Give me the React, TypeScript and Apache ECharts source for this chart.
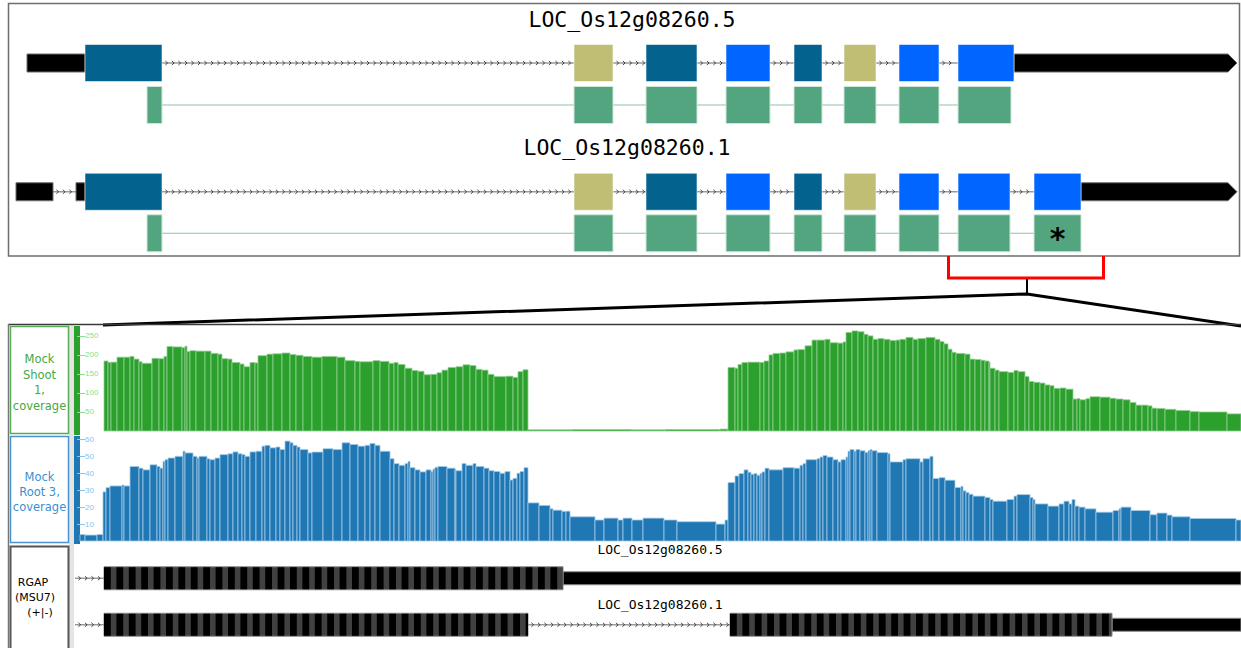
import React, { useEffect, useRef } from 'react';
import * as echarts from 'echarts';

// ---------- Top overview: gene models (positions along the locus, overview units) ----------
const titleT5 = 'LOC_Os12g08260.5';
const titleT1 = 'LOC_Os12g08260.1';

const t5Utr5 = [[27, 85]];
const t5Exons = [[85, 162], [574, 613], [646, 697], [726, 770], [794, 822], [844, 876], [899, 939], [958, 1014]];
const t5Phases = [0, 1, 0, 2, 0, 1, 2, 2];
const t5Utr3 = [[1014, 1237]];
const t5Cds = [[147, 162], [574, 613], [646, 697], [726, 770], [794, 822], [844, 876], [899, 939], [958, 1011]];

const t1Utr5 = [[16, 53], [76, 85]];
const t1Exons = [[85, 162], [574, 613], [646, 697], [726, 770], [794, 822], [844, 876], [899, 939], [958, 1010], [1034, 1081]];
const t1Phases = [0, 1, 0, 2, 0, 1, 2, 2, 2];
const t1Utr3 = [[1081, 1237]];
const t1Cds = [[147, 162], [574, 613], [646, 697], [726, 770], [794, 822], [844, 876], [899, 939], [958, 1010], [1034, 1081]];
const t1NoteIndex = 8;
const cdsNote = '*';

// ---------- Zoomed region: coverage tracks [start, end, coverage] ----------
const shootLabel = 'Mock\nShoot\n1,\ncoverage';
const rootLabel = 'Mock\nRoot 3,\ncoverage';
const rgapLabel = ['RGAP', '(MSU7)', '(+|-)'];
const shootTicks = [50, 100, 150, 200, 250];
const rootTicks = [10, 20, 30, 40, 50, 60];

const shootCoverage = [
  [104,108,184],[108,111,180],[111,117,181],[117,124,194],[124,130,194],[130,134,196],[134,139,189],[139,142,182],
  [142,152,178],[152,159,191],[159,164,190],[164,167,196],[167,173,222],[173,182,221],[182,185,219],[185,187,223],
  [187,190,209],[190,196,211],[196,205,210],[205,211,210],[211,218,204],[218,222,202],[222,228,190],[228,232,189],
  [232,240,180],[240,244,176],[244,250,169],[250,255,180],[255,258,179],[258,267,198],[267,273,202],[273,282,203],
  [282,290,205],[290,296,201],[296,303,199],[303,312,196],[312,322,194],[322,337,196],[337,345,194],[345,355,185],
  [355,360,183],[360,373,182],[373,380,185],[380,389,183],[389,394,178],[394,398,180],[398,405,175],[405,412,165],
  [412,418,159],[418,424,157],[424,431,148],[431,437,149],[437,442,153],[442,448,160],[448,456,167],[456,463,169],
  [463,470,174],[470,476,172],[476,482,162],[482,488,160],[488,494,149],[494,506,143],[506,513,144],[513,518,141],
  [518,523,156],[523,528,161],[528,572,3],[572,632,4],[632,665,3],[665,720,4],[720,728,5],[728,735,167],
  [735,738,165],[738,742,175],[742,748,180],[748,760,181],[760,764,180],[764,769,184],[769,773,200],[773,780,204],
  [780,786,205],[786,794,208],[794,798,213],[798,805,214],[805,812,224],[812,817,239],[817,825,239],[825,830,241],
  [830,838,232],[838,843,231],[843,846,234],[846,852,259],[852,858,263],[858,864,261],[864,868,254],[868,873,250],
  [873,878,241],[878,884,243],[884,890,241],[890,896,238],[896,900,239],[900,906,241],[906,913,246],[913,918,241],
  [918,926,243],[926,935,246],[935,940,241],[940,944,235],[944,948,229],[948,952,215],[952,956,207],[956,965,204],
  [965,970,202],[970,975,189],[975,981,188],[981,985,186],[985,989,184],[989,990,181],[990,995,165],[995,999,160],
  [999,1008,156],[1008,1014,154],[1014,1018,159],[1018,1025,156],[1025,1029,143],[1029,1034,130],[1034,1040,128],
  [1040,1045,126],[1045,1050,121],[1050,1054,119],[1054,1060,112],[1060,1066,113],[1066,1073,110],[1073,1077,84],
  [1077,1080,85],[1080,1086,82],[1086,1090,85],[1090,1100,90],[1100,1110,89],[1110,1116,86],[1116,1123,84],
  [1123,1130,82],[1130,1136,75],[1136,1142,68],[1142,1148,68],[1148,1152,66],[1152,1157,60],[1157,1165,59],
  [1165,1176,57],[1176,1190,54],[1190,1199,51],[1199,1227,50],[1227,1241,45]
];

const rootCoverage = [
  [80,85,3.8],[85,97,3.5],[97,103,3.8],[103,106,29],[106,110,31.5],[110,122,32.5],[122,124,33],[124,130,32.5],
  [130,139,44],[139,143,43],[143,150,42],[150,157,45],[157,160,44],[160,163,43],[163,165,47],[165,168,48],
  [168,175,49],[175,183,50],[183,185,53],[185,193,52],[193,197,50],[197,199,49],[199,207,50],[207,210,48.5],
  [210,215,48],[215,220,49],[220,228,51],[228,233,51.5],[233,238,52.6],[238,242,51.5],[242,245,51],[245,250,50],
  [250,256,52.6],[256,262,53],[262,265,56],[265,270,56.5],[270,276,55],[276,280,55.5],[280,285,54],[285,290,59],
  [290,293,58],[293,297,56.5],[297,300,55.5],[300,308,54],[308,312,52],[312,323,52.5],[323,333,54.5],[333,342,54],
  [342,350,58],[350,358,57],[358,365,56],[365,370,56.5],[370,375,57.6],[375,380,56.5],[380,390,53],[390,394,48.6],
  [394,399,45.7],[399,405,44.7],[405,408,45.7],[408,410,47],[410,415,43.3],[415,420,42],[420,426,40.8],[426,431,42],
  [431,433,41],[433,435,42.5],[435,438,43.5],[438,447,44],[447,455,43],[455,456,42],[456,462,41.5],[462,466,45.7],
  [466,473,44.7],[473,476,45.7],[476,484,44],[484,489,43],[489,494,41.5],[494,500,41],[500,505,40],[505,510,41],
  [510,513,36],[513,517,37],[517,520,40],[520,524,41],[524,528,43.3],[528,539,22.5],[539,550,21],[550,553,19],
  [553,562,18.2],[562,566,17.5],[566,570,17.6],[570,595,14.3],[595,604,12.4],[604,618,13.5],[618,623,12.4],
  [623,632,13.5],[632,643,12.4],[643,664,13.5],[664,677,12.4],[677,716,11.4],[716,725,10],[725,728,12.4],
  [728,735,34.5],[735,739,38.4],[739,744,39.8],[744,748,42],[748,751,40.6],[751,754,39.4],[754,757,39.8],
  [757,760,38.8],[760,762,39.8],[762,765,40.8],[765,769,43],[769,783,42],[783,794,43.3],[794,800,43],[800,803,44.7],
  [803,806,45.7],[806,817,48],[817,820,48.6],[820,823,49.6],[823,827,50.5],[827,833,49.6],[833,838,48],[838,841,46.7],
  [841,846,48],[846,848,49.6],[848,850,53],[850,854,54],[854,856,53],[856,860,54],[860,865,53.3],[865,868,52.2],
  [868,870,53.3],[870,872,54],[872,877,53.3],[877,888,52.2],[888,890,51.5],[890,903,46.7],[903,906,48],[906,920,48.6],
  [920,923,46.7],[923,930,48.6],[930,933,50],[933,939,36.9],[939,945,37.4],[945,955,35.9],[955,961,31.6],[961,963,32.3],
  [963,966,29.6],[966,969,28.6],[969,973,27.6],[973,985,26.5],[985,990,25.7],[990,993,24.5],[993,1007,23.5],
  [1007,1014,24.5],[1014,1017,26.5],[1017,1030,27.4],[1030,1033,25.7],[1033,1035,24.5],[1035,1048,21.9],
  [1048,1059,20.6],[1059,1064,21.9],[1064,1069,23.5],[1069,1072,21.9],[1072,1075,24.5],[1075,1079,20.6],
  [1079,1085,20],[1085,1096,19],[1096,1113,17],[1113,1119,18],[1119,1121,19],[1121,1131,20],[1131,1150,18],
  [1150,1157,15.5],[1157,1167,16.5],[1167,1172,15.3],[1172,1190,14.3],[1190,1236,13.3],[1236,1241,12.4]
];

// ---------- Zoomed region: RGAP annotation track ----------
const rgapNames = ['LOC_Os12g08260.5', 'LOC_Os12g08260.1'];
const rgapViewStart = 75;
const rgapT5Cds = [[104, 563]];
const rgapT5Utr = [[563, 1241]];
const rgapT1Cds = [[104, 528], [730, 1112]];
const rgapT1Utr = [[1112, 1241]];

// ---------- styles ----------
const PHASE_COLORS = ['#03638e', '#bfbe74', '#0066ff'];
const CDS_COLOR = '#53a57f';
const SHOOT_FILL = '#2ca02c';
const ROOT_FILL = '#1f77b4';

// kinds: 0 intron, 1 utr5, 2 utr3 arrow, 3 exon, 4 cds, 5 cds link, 6 note, 7 rgap utr, 8 rgap cds
function buildModel(utr5: number[][], exons: number[][], phases: number[], utr3: number[][], cds: number[][], noteIndex: number) {
  const feats: number[][] = [];
  const blocks = [...utr5, ...exons, ...utr3].map((b) => b.slice()).sort((a, b) => a[0] - b[0]);
  let reach = blocks[0][1];
  for (let i = 1; i < blocks.length; i++) {
    if (blocks[i][0] > reach + 0.5) feats.push([reach, blocks[i][0], 0, 0, 0]);
    reach = Math.max(reach, blocks[i][1]);
  }
  feats.push([cds[0][1], cds[cds.length - 1][0], 1, 5, 0]);
  utr5.forEach((b) => feats.push([b[0], b[1], 0, 1, 0]));
  utr3.forEach((b) => feats.push([b[0], b[1], 0, 2, 0]));
  exons.forEach((b, i) => feats.push([b[0], b[1], 0, 3, phases[i]]));
  cds.forEach((b) => feats.push([b[0], b[1], 1, 4, 0]));
  if (noteIndex >= 0) feats.push([cds[noteIndex][0], cds[noteIndex][1], 1, 6, 0]);
  return feats;
}

function buildRgap(row: number, viewStart: number, cds: number[][], utr: number[][]) {
  const feats: number[][] = [];
  const blocks = [...cds, ...utr].map((b) => b.slice()).sort((a, b) => a[0] - b[0]);
  let reach = viewStart;
  blocks.forEach((b) => {
    if (b[0] > reach + 0.5) feats.push([reach, b[0], row, 0, 0]);
    reach = Math.max(reach, b[1]);
  });
  utr.forEach((b) => feats.push([b[0], b[1], row, 7, 0]));
  cds.forEach((b) => feats.push([b[0], b[1], row, 8, 0]));
  return feats;
}

function intronShapes(x0: number, x1: number, y: number) {
  const ch: any[] = [
    { type: 'line', shape: { x1: x0, y1: y, x2: x1, y2: y }, style: { stroke: '#9a9a9a', lineWidth: 1.5 } },
  ];
  for (let x = x0 + 5; x < x1 - 1; x += 6.5) {
    ch.push({
      type: 'polyline',
      shape: { points: [[x - 1.6, y - 2], [x + 0.6, y], [x - 1.6, y + 2]] },
      style: { stroke: '#333', lineWidth: 0.9, fill: null },
    });
  }
  return ch;
}

function renderFeature(params: any, api: any) {
  const start = api.value(0);
  const end = api.value(1);
  const row = api.value(2);
  const kind = api.value(3);
  const phase = api.value(4);
  const p0 = api.coord([start, row]);
  const p1 = api.coord([end, row]);
  const x0 = p0[0];
  const x1 = p1[0];
  const y = p0[1];
  const w = x1 - x0;
  if (kind === 0) return { type: 'group', children: intronShapes(x0, x1, y) };
  if (kind === 1)
    return { type: 'rect', shape: { x: x0, y: y - 9, width: w, height: 18 }, style: { fill: '#000', stroke: '#6f6f6f', lineWidth: 1 } };
  if (kind === 2)
    return {
      type: 'polygon',
      shape: { points: [[x0, y - 9], [x1 - 9, y - 9], [x1, y], [x1 - 9, y + 9], [x0, y + 9]] },
      style: { fill: '#000', stroke: '#6f6f6f', lineWidth: 1 },
    };
  if (kind === 3)
    return {
      type: 'rect',
      shape: { x: x0, y: y - 18.5, width: w, height: 37 },
      style: { fill: PHASE_COLORS[phase], stroke: 'rgba(255,255,255,0.55)', lineWidth: 1 },
    };
  if (kind === 4)
    return { type: 'rect', shape: { x: x0, y: y - 18.5, width: w, height: 37 }, style: { fill: CDS_COLOR, stroke: '#cfe6da', lineWidth: 1 } };
  if (kind === 5)
    return { type: 'line', shape: { x1: x0, y1: y, x2: x1, y2: y }, style: { stroke: '#8cc3a9', lineWidth: 1 } };
  if (kind === 6)
    return {
      type: 'text',
      x: (x0 + x1) / 2,
      y: y + 5,
      style: { text: cdsNote, font: 'bold 30px "DejaVu Sans"', fill: '#000', align: 'center', verticalAlign: 'middle' },
    };
  if (kind === 7)
    return { type: 'rect', shape: { x: x0, y: y - 6.5, width: w, height: 13 }, style: { fill: '#000', stroke: '#8a8a8a', lineWidth: 1 } };
  // kind 8: striped coding block
  const children: any[] = [
    { type: 'rect', shape: { x: x0, y: y - 11.5, width: w, height: 23 }, style: { fill: '#414141', stroke: '#8a8a8a', lineWidth: 1 } },
  ];
  for (let x = x0; x < x1; x += 12.4) {
    children.push({
      type: 'rect',
      shape: { x, y: y - 11, width: Math.min(6.8, x1 - x), height: 22 },
      style: { fill: '#000' },
    });
  }
  return { type: 'group', children };
}

function barRenderer(fill: string, edge: string) {
  return (params: any, api: any) => {
    const a = api.coord([api.value(0), 0]);
    const b = api.coord([api.value(1), api.value(2)]);
    return {
      type: 'rect',
      shape: { x: a[0], y: b[1], width: b[0] - a[0], height: a[1] - b[1] },
      style: { fill, stroke: edge, lineWidth: 0.8 },
    };
  };
}

function coverageAxis(grid: number, max: number, ticks: number[], color: string) {
  return {
    gridIndex: grid,
    type: 'value',
    min: 0,
    max,
    axisLine: { show: false },
    splitLine: { show: false },
    axisTick: { show: true, inside: true, length: 8, customValues: ticks, lineStyle: { color, width: 1 } },
    axisLabel: { inside: true, margin: 8, customValues: ticks, color, fontSize: 8, fontFamily: 'Liberation Sans' },
  };
}

function textEl(text: string, x: number, y: number, font: string, fill: string, lineHeight?: number) {
  return {
    type: 'text',
    x,
    y,
    silent: true,
    style: { text, font, fill, align: 'center', verticalAlign: 'middle', lineHeight },
  };
}

export default function App() {
  const ref = useRef<HTMLDivElement>(null);
  useEffect(() => {
    const chart = echarts.init(ref.current as HTMLDivElement, null, { renderer: 'svg' });
    const modelSeries = (axis: number, data: number[][]) => ({
      type: 'custom',
      xAxisIndex: axis,
      yAxisIndex: axis,
      encode: { x: [0, 1], y: 2 },
      renderItem: renderFeature,
      data,
      silent: true,
    });
    const option: any = {
      animation: false,
      grid: [
        { left: 0, right: 0, top: 42, height: 84 },
        { left: 0, right: 0, top: 171, height: 83 },
        { left: 77, right: 0, top: 326, height: 105 },
        { left: 77, right: 0, top: 436, height: 105 },
        { left: 0, right: 0, top: 555, height: 102 },
      ],
      xAxis: [0, 1, 2, 3, 4].map((i) => ({
        gridIndex: i,
        type: 'value',
        min: i === 2 || i === 3 ? 77 : 0,
        max: 1241,
        show: false,
      })),
      yAxis: [
        { gridIndex: 0, type: 'category', data: ['exon', 'cds'], inverse: true, show: false },
        { gridIndex: 1, type: 'category', data: ['exon', 'cds'], inverse: true, show: false },
        coverageAxis(2, 276, shootTicks, '#86df86'),
        coverageAxis(3, 62, rootTicks, '#86c3f0'),
        { gridIndex: 4, type: 'category', data: rgapNames, inverse: true, show: false },
      ],
      series: [
        modelSeries(0, buildModel(t5Utr5, t5Exons, t5Phases, t5Utr3, t5Cds, -1)),
        modelSeries(1, buildModel(t1Utr5, t1Exons, t1Phases, t1Utr3, t1Cds, t1NoteIndex)),
        {
          type: 'custom',
          name: 'Mock Shoot 1, coverage',
          xAxisIndex: 2,
          yAxisIndex: 2,
          encode: { x: [0, 1], y: 2 },
          renderItem: barRenderer(SHOOT_FILL, '#92d192'),
          data: shootCoverage,
          silent: true,
        },
        {
          type: 'custom',
          name: 'Mock Root 3, coverage',
          xAxisIndex: 3,
          yAxisIndex: 3,
          encode: { x: [0, 1], y: 2 },
          renderItem: barRenderer(ROOT_FILL, '#a3cbe8'),
          data: rootCoverage,
          silent: true,
        },
        modelSeries(4, [...buildRgap(0, rgapViewStart, rgapT5Cds, rgapT5Utr), ...buildRgap(1, rgapViewStart, rgapT1Cds, rgapT1Utr)]),
      ],
      graphic: [
        { type: 'rect', silent: true, z: -5, shape: { x: 8.5, y: 3.5, width: 1231, height: 252.5 }, style: { fill: 'none', stroke: '#6e6e6e', lineWidth: 1.5 } },
        textEl(titleT5, 632, 19, '21.5px "DejaVu Sans Mono"', '#000'),
        textEl(titleT1, 627, 147, '21.5px "DejaVu Sans Mono"', '#000'),
        { type: 'polyline', silent: true, shape: { points: [[948.5, 256], [948.5, 278], [1103.5, 278], [1103.5, 256]] }, style: { stroke: '#ff0000', lineWidth: 3, fill: null } },
        { type: 'line', silent: true, shape: { x1: 1027, y1: 279, x2: 1027, y2: 294 }, style: { stroke: '#000', lineWidth: 2 } },
        { type: 'polyline', silent: true, shape: { points: [[103, 325], [1027, 294], [1241, 326]] }, style: { stroke: '#000', lineWidth: 3, fill: null } },
        { type: 'line', silent: true, shape: { x1: 8, y1: 324.5, x2: 1241, y2: 324.5 }, style: { stroke: '#3a3a3a', lineWidth: 1.5 } },
        { type: 'line', silent: true, shape: { x1: 8.5, y1: 324, x2: 8.5, y2: 648 }, style: { stroke: '#777', lineWidth: 1.5 } },
        { type: 'rect', silent: true, z: -5, shape: { x: 69, y: 325.5, width: 5, height: 323 }, style: { fill: '#e4e4e4' } },
        { type: 'rect', silent: true, z: -5, shape: { x: 74, y: 326, width: 6, height: 109 }, style: { fill: SHOOT_FILL } },
        { type: 'rect', silent: true, z: -5, shape: { x: 74, y: 436, width: 6, height: 108 }, style: { fill: ROOT_FILL } },
        { type: 'rect', silent: true, shape: { x: 10.5, y: 326.5, width: 58, height: 107 }, style: { fill: '#fff', stroke: '#5aac5a', lineWidth: 1.5 } },
        { type: 'rect', silent: true, shape: { x: 10.5, y: 436.5, width: 58, height: 106 }, style: { fill: '#fff', stroke: '#4b92d0', lineWidth: 1.5 } },
        { type: 'rect', silent: true, shape: { x: 10.5, y: 546.5, width: 58, height: 110 }, style: { fill: '#fff', stroke: '#555', lineWidth: 2 } },
        textEl(shootLabel, 39.5, 382.5, '11.5px "DejaVu Sans"', '#45a845', 15.5),
        textEl(rootLabel, 39.5, 492, '11.5px "DejaVu Sans"', '#3b8fd0', 15),
        textEl(rgapLabel[0], 33, 582, '11px "DejaVu Sans"', '#000'),
        textEl(rgapLabel[1], 35, 597, '11px "DejaVu Sans"', '#000'),
        textEl(rgapLabel[2], 40, 612, '11px "DejaVu Sans"', '#000'),
        textEl(rgapNames[0], 660, 549, '13px "DejaVu Sans Mono"', '#000'),
        textEl(rgapNames[1], 660, 604, '13px "DejaVu Sans Mono"', '#000'),
      ],
    };
    chart.setOption(option);
    return () => chart.dispose();
  }, []);
  return (
    <div
      ref={ref}
      style={{ position: 'fixed', left: 0, top: 0, width: 1241, height: 648, background: '#fff' }}
    />
  );
}
